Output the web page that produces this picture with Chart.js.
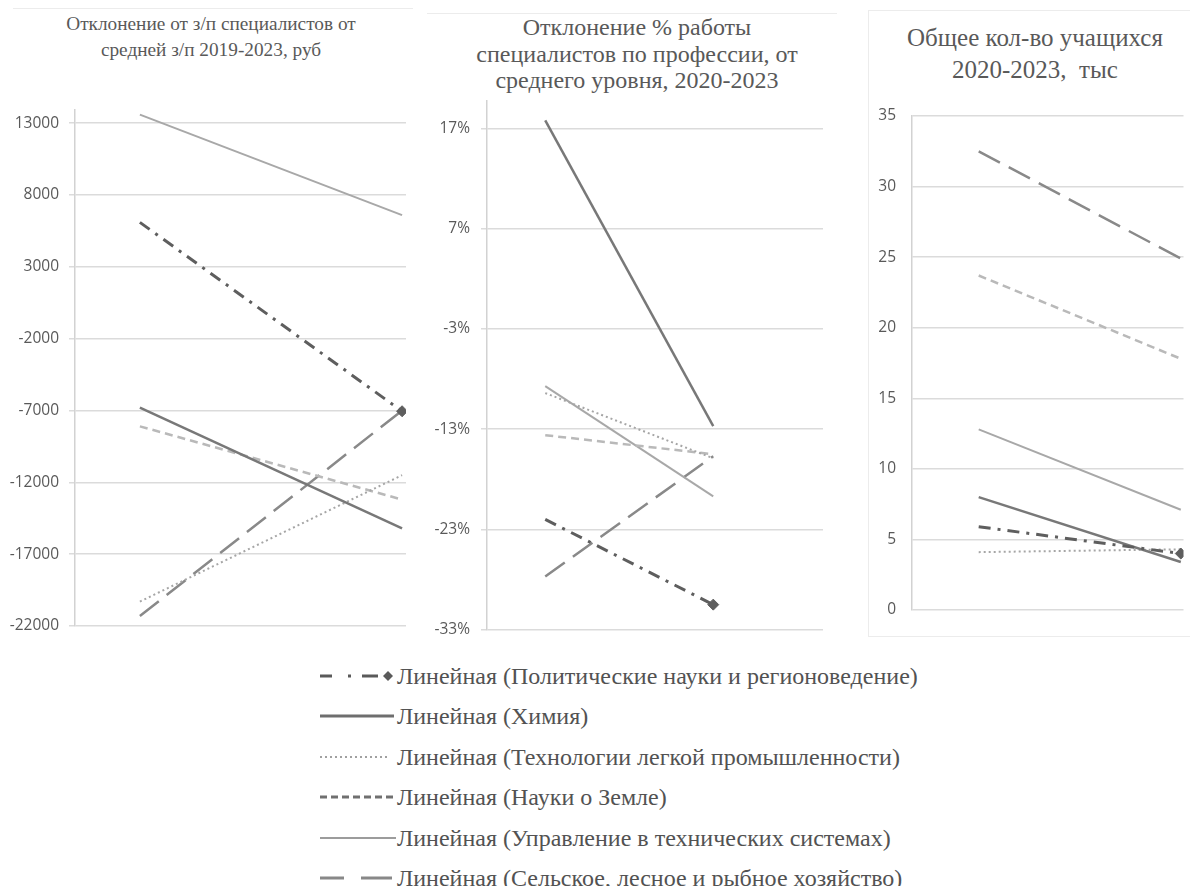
<!DOCTYPE html>
<html lang="ru">
<head>
<meta charset="utf-8">
<title>Линейные тренды</title>
<script src="https://cdn.jsdelivr.net/npm/chart.js@4.4.1/dist/chart.umd.min.js"></script>
<style>
  body { margin: 0; background: #fff; width: 1190px; height: 886px; overflow: hidden; position: relative; }
  canvas { position: absolute; }
  .title { position: absolute; transform: translateX(-50%); text-align: center; white-space: nowrap;
           color: #595959; font-family: "Liberation Serif", serif; }
  .frame { position: absolute; border: 0 solid #ececec; }
  .row { position: absolute; left: 0; width: 1190px; height: 40px; }
  .row svg { position: absolute; left: 316px; top: 10px; }
  .row span { position: absolute; left: 397px; top: 0; line-height: 40px; white-space: nowrap;
              font-family: "Liberation Serif", serif; font-size: 24px; color: #525252; }
</style>
</head>
<body>

<div class="frame" style="left:13px; top:8px; width:400px; height:0; border-top-width:1px;"></div>
<div class="frame" style="left:427px; top:13px; width:410px; height:0; border-top-width:1px;"></div>
<div class="frame" style="left:868px; top:10px; width:330px; height:625px; border-left-width:1px; border-bottom-width:1px; border-top-width:1px;"></div>

<div class="title" style="left:211px; top:11px; font-size:19.3px; line-height:26px;">Отклонение от з/п специалистов от<br>средней з/п 2019-2023, руб</div>
<div class="title" style="left:637px; top:14px; font-size:24px; line-height:26.5px;">Отклонение % работы<br>специалистов по профессии, от<br>среднего уровня, 2020-2023</div>
<div class="title" style="left:1035px; top:22px; font-size:25px; line-height:32px;">Общее кол-во учащихся<br>2020-2023,&nbsp; тыс</div>

<canvas id="salary" width="420" height="560" style="left:0; top:90px;"></canvas>
<canvas id="share" width="420" height="570" style="left:413px; top:80px;"></canvas>
<canvas id="students" width="352" height="560" style="left:838px; top:90px;"></canvas>

<div id="legend"></div>

<script>
// серии (линии тренда)
const seriesNames = [
  "Линейная (Политические науки и регионоведение)",
  "Линейная (Химия)",
  "Линейная (Технологии легкой промышленности)",
  "Линейная (Науки о Земле)",
  "Линейная (Управление в технических системах)",
  "Линейная (Сельское, лесное и рыбное хозяйство)"
];

// отклонение з/п, руб
const salaryYears = [2019, 2023];
const salaryStart = [6100, -6800, -20300, -8100, 13600, -21300];
const salaryEnd   = [-7050, -15200, -11500, -13200, 6600, -7000];
const salaryTicks = [-22000, -17000, -12000, -7000, -2000, 3000, 8000, 13000];

// отклонение % работы по профессии
const shareYears = [2020, 2023];
const shareStart = [-22.0, 17.8, -9.4, -13.6, -8.7, -27.7];
const shareEnd   = [-30.5, -12.7, -15.9, -15.5, -19.7, -15.7];
const shareTicks = [-33, -23, -13, -3, 7, 17];

// учащиеся, тыс
const studentsYears = [2020, 2023];
const studentsStart = [5.9, 8.0, 4.1, 23.7, 12.8, 32.5];
const studentsEnd   = [4.0, 3.4, 4.3, 17.8, 7.1, 24.9];
const studentsTicks = [0, 5, 10, 15, 20, 25, 30, 35];

// оформление линий
const lineStyle = [
  { color: "#5e5e5e", width: 3,   dash: [12, 7, 3, 7] },
  { color: "#787878", width: 2.5, dash: [] },
  { color: "#a6a6a6", width: 2,   dash: [2, 3] },
  { color: "#b9b9b9", width: 2.5, dash: [8, 5] },
  { color: "#a8a8a8", width: 2,   dash: [] },
  { color: "#898989", width: 2.5, dash: [24, 10] }
];
const legendStyle = [
  { color: "#5a5a5a", width: 3,   dash: "12 16 3 11 16 100", diamond: true },
  { color: "#6e6e6e", width: 3,   dash: "" , len: 74 },
  { color: "#a0a0a0", width: 2,   dash: "2 3", len: 68 },
  { color: "#707070", width: 3,   dash: "7 4", len: 76 },
  { color: "#9c9c9c", width: 2,   dash: "", len: 76 },
  { color: "#888888", width: 3,   dash: "24 17 31", len: 76 }
];

const tickFont = { family: "Open Sans", size: 15.5 };

function makePanel(id, years, starts, ends, ticks, cfg) {
  const datasets = seriesNames.map((name, i) => ({
    label: name,
    data: years.map((x, k) => ({ x: x, y: k === 0 ? starts[i] : ends[i] })),
    borderColor: lineStyle[i].color,
    borderWidth: lineStyle[i].width,
    borderDash: lineStyle[i].dash,
    borderCapStyle: "butt",
    pointStyle: "rectRot",
    pointRadius: i === 0 ? [0, 5.5] : 0,
    pointBackgroundColor: lineStyle[i].color,
    pointBorderColor: lineStyle[i].color,
    pointBorderWidth: 1,
    tension: 0
  }));

  new Chart(document.getElementById(id), {
    type: "line",
    data: { datasets: datasets },
    options: {
      responsive: false,
      animation: false,
      devicePixelRatio: 1,
      layout: { padding: cfg.padding },
      plugins: { legend: { display: false }, tooltip: { enabled: false } },
      scales: {
        x: { type: "linear", display: false, min: cfg.xMin, max: cfg.xMax },
        y: {
          min: cfg.yMin,
          max: cfg.yMax,
          afterBuildTicks: s => { s.ticks = ticks.map(v => ({ value: v })); },
          afterFit: s => { s.width = 74; },
          ticks: {
            color: "#595959",
            font: tickFont,
            padding: cfg.tickPad,
            callback: cfg.fmt
          },
          grid: {
            color: "#dbdbdb",
            lineWidth: 1.5,
            drawTicks: cfg.tickLen > 0,
            tickLength: cfg.tickLen
          },
          border: { color: "#d2d2d2", width: 1.5 }
        }
      }
    }
  });
}

makePanel("salary", salaryYears, salaryStart, salaryEnd, salaryTicks, {
  padding: { top: 18, bottom: 24, left: 1, right: 14 },
  xMin: 2018.01, xMax: 2023.06,
  yMin: -22000, yMax: 13970,
  tickLen: 6, tickPad: 10,
  fmt: v => String(v)
});

makePanel("share", shareYears, shareStart, shareEnd, shareTicks, {
  padding: { top: 19, bottom: 19, left: 0, right: 10 },
  xMin: 2018.96, xMax: 2024.96,
  yMin: -33, yMax: 19.8,
  tickLen: 6, tickPad: 11,
  fmt: v => v + "%"
});

makePanel("students", studentsYears, studentsStart, studentsEnd, studentsTicks, {
  padding: { top: 26, bottom: 40, left: 0, right: 0 },
  xMin: 2019.01, xMax: 2023.04,
  yMin: 0, yMax: 35,
  tickLen: 0, tickPad: 16,
  fmt: v => String(v)
});

// легенда
const legendBox = document.getElementById("legend");
const svgNS = "http://www.w3.org/2000/svg";
seriesNames.forEach((name, i) => {
  const st = legendStyle[i];
  const row = document.createElement("div");
  row.className = "row";
  row.style.top = (656 + i * 40.4) + "px";

  const svg = document.createElementNS(svgNS, "svg");
  svg.setAttribute("width", "80");
  svg.setAttribute("height", "20");
  const line = document.createElementNS(svgNS, "line");
  line.setAttribute("x1", "4");
  line.setAttribute("x2", st.diamond ? "62" : String(4 + st.len));
  line.setAttribute("y1", "10");
  line.setAttribute("y2", "10");
  line.setAttribute("stroke", st.color);
  line.setAttribute("stroke-width", st.width);
  if (st.dash) line.setAttribute("stroke-dasharray", st.dash);
  svg.appendChild(line);
  if (st.diamond) {
    const d = document.createElementNS(svgNS, "polygon");
    d.setAttribute("points", "72,5 77,10 72,15 67,10");
    d.setAttribute("fill", st.color);
    svg.appendChild(d);
  }
  row.appendChild(svg);

  const txt = document.createElement("span");
  txt.textContent = name;
  row.appendChild(txt);
  legendBox.appendChild(row);
});
</script>
</body>
</html>
